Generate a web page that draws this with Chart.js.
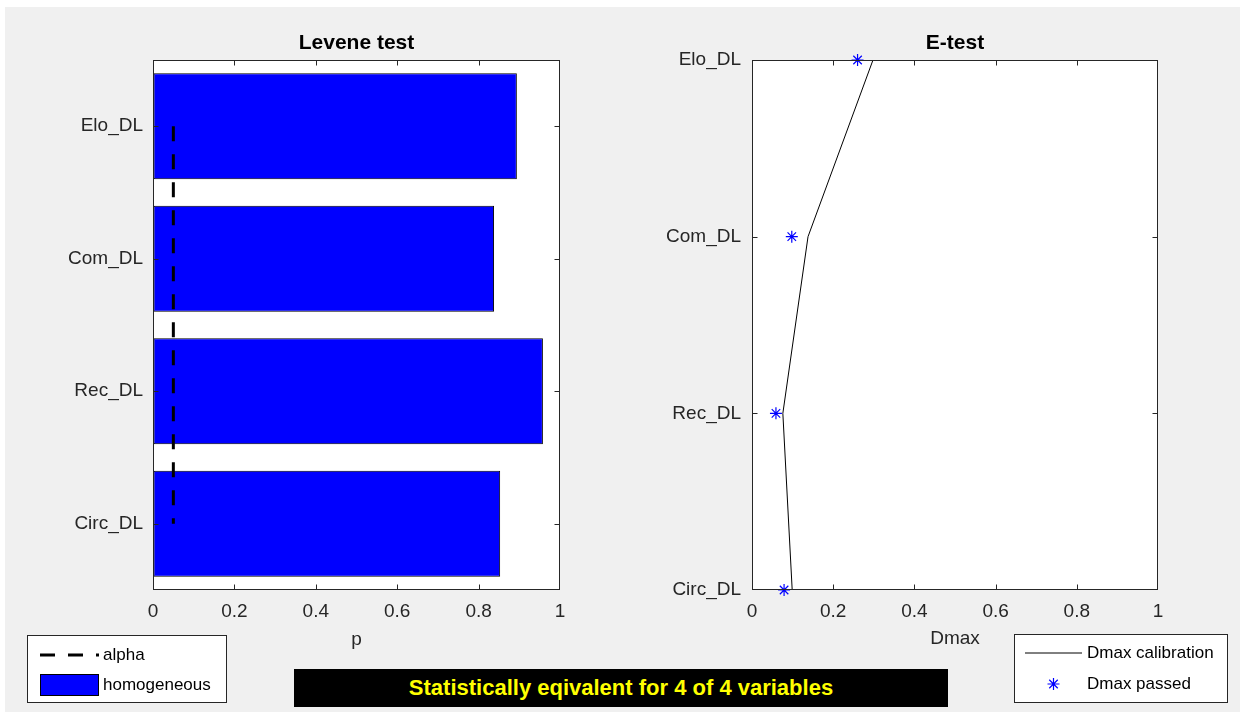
<!DOCTYPE html>
<html>
<head>
<meta charset="utf-8">
<title>Levene test / E-test</title>
<script src="https://cdn.jsdelivr.net/npm/chart.js@4.4.1/dist/chart.umd.min.js"></script>
<style>
  html, body { margin: 0; padding: 0; background: #ffffff; }
  #fig { position: relative; width: 1244px; height: 715px; overflow: hidden; background: #ffffff; }
  #panel { position: absolute; left: 5px; top: 7px; width: 1235px; height: 705px; background: #f0f0f0; }
  #fig canvas { position: absolute; left: 0; top: 0; }
  #banner {
    position: absolute; left: 294px; top: 669px; width: 654px; height: 32px; padding-top: 6px;
    background: #000000; color: #ffff00; text-align: center; line-height: 32px;
    font: bold 22px 'Liberation Sans', Arial, sans-serif;
  }
</style>
</head>
<body>
<div id="fig">
  <div id="panel"></div>
  <canvas id="levene" width="1244" height="715"></canvas>
  <canvas id="etest" width="1244" height="715"></canvas>
  <div id="banner">Statistically eqivalent for 4 of 4 variables</div>
</div>
<script>
// Variables tested, listed top to bottom
const variables = ['Elo_DL', 'Com_DL', 'Rec_DL', 'Circ_DL'];
// Levene test p-values per variable
const leveneP = [0.894, 0.838, 0.958, 0.853];
// Significance level drawn as the dashed reference line
const alphaLevel = 0.05;
// E-test: calibration Dmax and observed (passed) Dmax per variable
const dmaxCalibration = [0.298, 0.138, 0.076, 0.099];
const dmaxPassed = [0.260, 0.098, 0.059, 0.079];
// Value axis range and tick step shared by both panels
const valueRange = [0, 1];
const valueStep = 0.2;

const FONT = "'Liberation Sans', Arial, sans-serif";
const AXIS_COLOR = '#262626';
const TICK_SIZE = 19;
Chart.defaults.font.family = FONT;
Chart.defaults.color = AXIS_COLOR;

// White plot area, box with inward ticks, titles and a boxed legend
const axesDecor = {
  id: 'axesDecor',
  beforeDraw(chart) {
    const { ctx, chartArea: a } = chart;
    ctx.save();
    ctx.fillStyle = '#ffffff';
    ctx.fillRect(a.left, a.top, a.right - a.left, a.bottom - a.top);
    ctx.restore();
  },
  afterDatasetsDraw(chart, args, opts) {
    const { ctx, chartArea: a, scales } = chart;
    const x = scales.x, y = scales.y;
    const L = Math.round(a.left) + 0.5, R = Math.round(a.right) - 0.5;
    const T = Math.round(a.top) + 0.5, B = Math.round(a.bottom) - 0.5;
    ctx.save();
    ctx.strokeStyle = AXIS_COLOR;
    ctx.lineWidth = 1;
    ctx.beginPath();
    const tick = 5;
    x.ticks.forEach(t => {
      const px = Math.round(x.getPixelForValue(t.value)) + 0.5;
      if (px <= L || px >= R) return;
      ctx.moveTo(px, T); ctx.lineTo(px, T + tick);
      ctx.moveTo(px, B); ctx.lineTo(px, B - tick);
    });
    y.ticks.forEach((t, i) => {
      const py = Math.round(y.getPixelForTick(i)) + 0.5;
      if (py <= T || py >= B) return;
      ctx.moveTo(L, py); ctx.lineTo(L + tick, py);
      ctx.moveTo(R, py); ctx.lineTo(R - tick, py);
    });
    ctx.stroke();
    ctx.strokeRect(L, T, R - L, B - T);

    // panel title and value-axis title
    const cx = (a.left + a.right) / 2;
    ctx.textAlign = 'center';
    ctx.textBaseline = 'middle';
    ctx.fillStyle = '#000000';
    ctx.font = 'bold 21px ' + FONT;
    ctx.fillText(opts.title, cx, 43.5);
    ctx.fillStyle = AXIS_COLOR;
    ctx.font = TICK_SIZE + 'px ' + FONT;
    ctx.fillText(opts.xTitle, cx, opts.xTitleY);

    // legend box
    const lg = opts.legend;
    ctx.fillStyle = '#ffffff';
    ctx.fillRect(lg.left, lg.top, lg.width, lg.height);
    ctx.strokeStyle = AXIS_COLOR;
    ctx.strokeRect(lg.left + 0.5, lg.top + 0.5, lg.width - 1, lg.height - 1);
    chart.data.datasets.forEach((ds, i) => {
      const ry = lg.rows[i];
      const [sx0, sx1] = lg.sample;
      ctx.save();
      const kind = ds.type || chart.config.type;
      if (kind === 'bar') {
        ctx.fillStyle = ds.backgroundColor;
        ctx.fillRect(sx0, ry - 11, sx1 - sx0, 22);
        ctx.strokeStyle = ds.borderColor;
        ctx.lineWidth = 1;
        ctx.strokeRect(sx0 + 0.5, ry - 10.5, sx1 - sx0 - 1, 21);
      } else if (ds.showLine === false) {
        ctx.strokeStyle = ds.pointBorderColor;
        ctx.lineWidth = ds.pointBorderWidth;
        Chart.helpers.drawPoint(ctx, { pointStyle: ds.pointStyle, radius: ds.pointRadius, rotation: 0, borderWidth: ds.pointBorderWidth }, (sx0 + sx1) / 2, ry);
      } else {
        ctx.strokeStyle = ds.borderColor;
        ctx.lineWidth = ds.borderWidth;
        ctx.setLineDash(ds.borderDash || []);
        ctx.beginPath();
        ctx.moveTo(sx0, ry); ctx.lineTo(sx1, ry);
        ctx.stroke();
      }
      ctx.restore();
      ctx.fillStyle = '#000000';
      ctx.font = '17px ' + FONT;
      ctx.textAlign = 'left';
      ctx.textBaseline = 'middle';
      ctx.fillText(ds.label, lg.textX, ry);
    });
    ctx.restore();
  }
};

// Value axis along the bottom; its box is a fixed 60px strip under the plot
function valueAxis() {
  return {
    type: 'linear',
    min: valueRange[0],
    max: valueRange[1],
    grid: { display: true, drawOnChartArea: false, drawTicks: false },
    border: { display: false },
    ticks: {
      stepSize: valueStep,
      padding: 10,
      maxRotation: 0,
      font: { size: TICK_SIZE },
      color: AXIS_COLOR,
      callback: v => String(Number(v.toFixed(1)))
    },
    afterFit(s) { s.height = 60; }
  };
}

// Category axis on the left; its box width places the plot's left edge
function categoryAxis(offset, pad, width) {
  return {
    type: 'category',
    labels: variables,
    offset: offset,
    grid: { display: true, drawOnChartArea: false, drawTicks: false },
    border: { display: false },
    ticks: { padding: pad, autoSkip: false, font: { size: TICK_SIZE }, color: AXIS_COLOR },
    afterFit(s) { s.width = width; }
  };
}

// Left panel: Levene test p-values with the alpha level
new Chart(document.getElementById('levene'), {
  type: 'bar',
  data: {
    labels: variables,
    datasets: [
      {
        type: 'line',
        label: 'alpha',
        data: variables.map(v => ({ x: alphaLevel, y: v })),
        borderColor: '#000000',
        borderWidth: 3,
        borderDash: [15, 13],
        pointRadius: 0,
        fill: false,
        order: 0
      },
      {
        type: 'bar',
        label: 'homogeneous',
        data: leveneP,
        backgroundColor: '#0000ff',
        borderColor: '#000000',
        borderWidth: 1,
        borderSkipped: false,
        barPercentage: 0.8,
        categoryPercentage: 1,
        order: 1
      }
    ]
  },
  options: {
    indexAxis: 'y',
    responsive: false,
    animation: false,
    layout: { padding: { left: 0, right: 684, top: 60, bottom: 65 } },
    scales: { x: valueAxis(), y: categoryAxis(true, 10, 153) },
    plugins: {
      legend: { display: false },
      tooltip: { enabled: false },
      axesDecor: {
        title: 'Levene test',
        xTitle: 'p',
        xTitleY: 640,
        legend: { left: 27, top: 635, width: 200, height: 68, rows: [655, 685], sample: [40, 99], textX: 103 }
      }
    }
  },
  plugins: [axesDecor]
});

// Right panel: E-test calibration Dmax against the observed Dmax
new Chart(document.getElementById('etest'), {
  type: 'line',
  data: {
    labels: variables,
    datasets: [
      {
        label: 'Dmax calibration',
        data: variables.map((v, i) => ({ x: dmaxCalibration[i], y: v })),
        borderColor: '#000000',
        borderWidth: 1,
        pointRadius: 0,
        tension: 0,
        fill: false
      },
      {
        label: 'Dmax passed',
        data: variables.map((v, i) => ({ x: dmaxPassed[i], y: v })),
        showLine: false,
        pointStyle: 'star',
        pointRadius: 6,
        pointBorderColor: '#0000ff',
        pointBackgroundColor: '#0000ff',
        pointBorderWidth: 1.2,
        clip: false
      }
    ]
  },
  options: {
    indexAxis: 'y',
    responsive: false,
    animation: false,
    layout: { padding: { left: 0, right: 86, top: 60, bottom: 65 } },
    scales: { x: valueAxis(), y: categoryAxis(false, 11, 752) },
    plugins: {
      legend: { display: false },
      tooltip: { enabled: false },
      axesDecor: {
        title: 'E-test',
        xTitle: 'Dmax',
        xTitleY: 639,
        legend: { left: 1014, top: 634, width: 214, height: 69, rows: [653, 684], sample: [1025, 1082], textX: 1087 }
      }
    }
  },
  plugins: [axesDecor]
});
</script>
</body>
</html>
